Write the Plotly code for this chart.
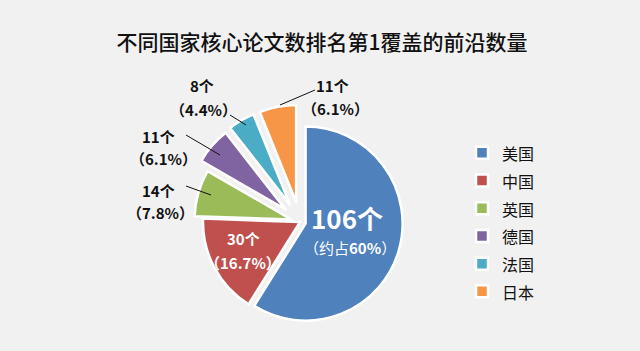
import plotly.graph_objects as go

countries = ["美国", "中国", "英国", "德国", "法国", "日本"]
counts = [106, 30, 14, 11, 8, 11]
colors = ["#4F81BD", "#C0504D", "#9BBB59", "#8064A2", "#4BACC6", "#F79646"]
pulls = [0.06, 0.0, 0.09, 0.2, 0.21, 0.21]
title_text = "不同国家核心论文数排名第1覆盖的前沿数量"

W, H = 640, 351
total = sum(counts)
pcts = [c / total * 100 for c in counts]

FONT = "Noto Sans CJK SC"

def px(x):
    return x / W

def py(y):
    return 1 - y / H

# pie center (300,222) px, radius 97 px, max pull 0.21
cx, cy, r = 300, 222, 97
half = r * (1 + max(pulls))

# legend labels: smaller glyphs inside a taller legend line for wider spacing
legend_labels = ["<span style='font-size:16px'>%s</span>" % c for c in countries]

fig = go.Figure(go.Pie(
    labels=legend_labels,
    values=counts,
    marker=dict(colors=colors, line=dict(color="#ffffff", width=2.5)),
    pull=pulls,
    sort=False,
    direction="clockwise",
    rotation=0,
    textinfo="none",
    hovertext=countries,
    hoverinfo="text+value+percent",
    domain=dict(x=[px(cx - half), px(cx + half)], y=[py(cy + half), py(cy - half)]),
))

annotations = []
shapes = []

def add_text(text, x, y, size, color, bold=True):
    annotations.append(dict(
        x=px(x), y=py(y), xref="paper", yref="paper",
        text=("<b>%s</b>" % text) if bold else text,
        showarrow=False, xanchor="center", yanchor="middle",
        font=dict(family=FONT, size=size, color=color),
    ))

# inside labels
add_text(f"{counts[0]}个", 347, 217, 26, "white")
add_text(f"（约占<b>{round(pcts[0], -1):.0f}%</b>）", 350, 247, 15, "white", bold=False)
add_text(f"{counts[1]}个", 243, 239, 15, "white")
add_text(f"（{pcts[1]:.1f}%）", 243, 262, 15, "white")

# outside labels (index, num pos, pct pos, line)
outside = [
    (2, (158, 190), (160, 213), (186, 186, 211, 195)),
    (3, (158, 136), (163, 158), (186, 135, 220, 155)),
    (4, (202, 85), (203, 109), (230, 115, 246, 125)),
    (5, (332, 85), (335, 108), (315, 90, 280, 105)),
]
for i, npos, ppos, ln in outside:
    add_text(f"{counts[i]}个", npos[0], npos[1], 15, "#111111")
    add_text(f"（{pcts[i]:.1f}%）", ppos[0], ppos[1], 15, "#111111")
    shapes.append(dict(type="line", xref="paper", yref="paper",
                       x0=px(ln[0]), y0=py(ln[1]), x1=px(ln[2]), y1=py(ln[3]),
                       line=dict(color="#111111", width=1)))

fig.update_layout(
    width=W, height=H,
    margin=dict(l=0, r=0, t=0, b=0),
    paper_bgcolor="#f1f1f2",
    plot_bgcolor="#f1f1f2",
    title=dict(text=title_text, x=0.503, xanchor="center", y=py(43), yanchor="middle",
               font=dict(family=FONT, size=21, color="#111111", weight=500)),
    legend=dict(x=px(462), xanchor="left", y=py(134), yanchor="top",
                font=dict(family=FONT, size=19, color="#111111"),
                bgcolor="rgba(0,0,0,0)"),
    annotations=annotations,
    shapes=shapes,
)

fig.write_html("out.html")
